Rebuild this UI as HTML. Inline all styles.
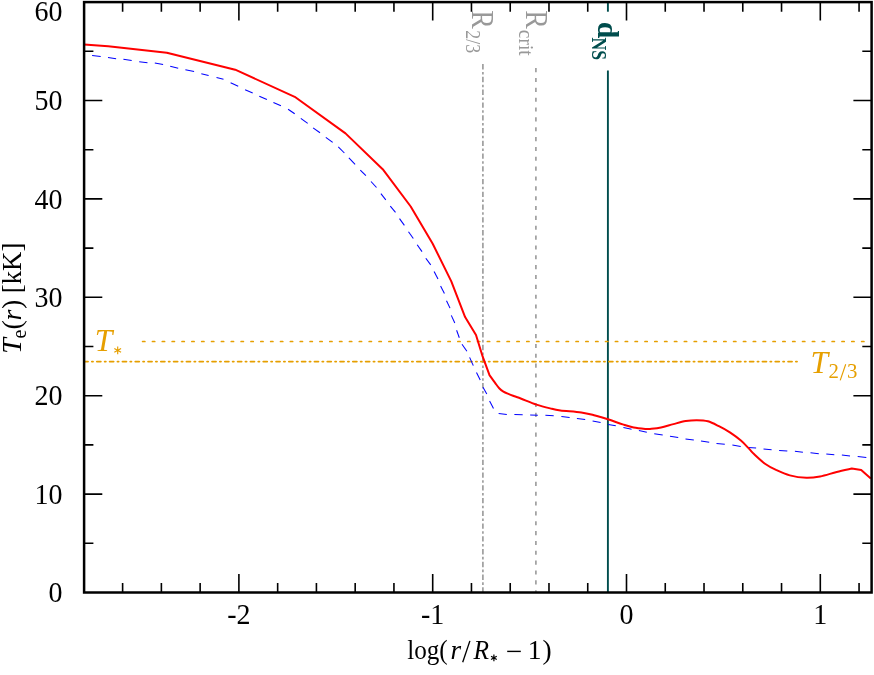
<!DOCTYPE html>
<html><head><meta charset="utf-8"><title>Te(r)</title>
<style>html,body{margin:0;padding:0;background:#fff}svg{display:block;will-change:transform}.ls,.ls text{font-family:"Liberation Serif",serif}</style>
</head><body>
<svg width="874" height="675" viewBox="0 0 874 675">
<rect width="874" height="675" fill="#fff"/>
<line x1="482.9" y1="64.1" x2="482.9" y2="592.5" stroke="#999999" stroke-width="1.6" stroke-dasharray="5.4 2.4 2.6 2.36"/>
<line x1="535.9" y1="68.1" x2="535.9" y2="592.5" stroke="#999999" stroke-width="1.6" stroke-dasharray="4.1 5.75"/>
<line x1="607.9" y1="2.1" x2="607.9" y2="11.7" stroke="#004d4d" stroke-width="1.9"/>
<line x1="607.9" y1="70.6" x2="607.9" y2="592.5" stroke="#004d4d" stroke-width="1.9"/>
<line x1="142.6" y1="341.5" x2="866" y2="341.5" stroke="#e69f00" stroke-width="1.7" stroke-linecap="round" stroke-dasharray="2.3 7.55"/>
<line x1="83.2" y1="361.6" x2="797.2" y2="361.6" stroke="#e69f00" stroke-width="1.9" stroke-linecap="round" stroke-dashoffset="-0.9" stroke-dasharray="3.9 3.9 1.1 3.9"/>
<line x1="92.1" y1="55.5" x2="100.7" y2="56.6" stroke="#0000ff" stroke-width="1.05"/>
<line x1="108" y1="57.6" x2="116.1" y2="58.7" stroke="#0000ff" stroke-width="1.05"/>
<line x1="123.4" y1="59.3" x2="131.7" y2="60.6" stroke="#0000ff" stroke-width="1.05"/>
<line x1="139.2" y1="61.7" x2="147.5" y2="62.7" stroke="#0000ff" stroke-width="1.05"/>
<line x1="154.8" y1="63.1" x2="163.1" y2="64.4" stroke="#0000ff" stroke-width="1.05"/>
<line x1="170.2" y1="66.2" x2="178.2" y2="68.3" stroke="#0000ff" stroke-width="1.05"/>
<line x1="185.4" y1="69.7" x2="194.1" y2="71.6" stroke="#0000ff" stroke-width="1.05"/>
<line x1="201.3" y1="73.7" x2="208.6" y2="75.5" stroke="#0000ff" stroke-width="1.05"/>
<line x1="216.5" y1="77.6" x2="223.5" y2="79.3" stroke="#0000ff" stroke-width="1.05"/>
<line x1="230.6" y1="82.8" x2="238.2" y2="86.2" stroke="#0000ff" stroke-width="1.05"/>
<line x1="245.1" y1="89.7" x2="252.7" y2="93.1" stroke="#0000ff" stroke-width="1.05"/>
<line x1="259.3" y1="96.2" x2="266.9" y2="99.6" stroke="#0000ff" stroke-width="1.05"/>
<line x1="273.4" y1="102.4" x2="280.9" y2="105.8" stroke="#0000ff" stroke-width="1.05"/>
<line x1="288.1" y1="109.2" x2="294.7" y2="113.8" stroke="#0000ff" stroke-width="1.05"/>
<line x1="300.8" y1="118.4" x2="307.7" y2="123.4" stroke="#0000ff" stroke-width="1.05"/>
<line x1="313.1" y1="127.9" x2="320" y2="132.7" stroke="#0000ff" stroke-width="1.05"/>
<line x1="325.8" y1="137.3" x2="332.7" y2="142.4" stroke="#0000ff" stroke-width="1.05"/>
<line x1="338.3" y1="146.9" x2="344.4" y2="153.0" stroke="#0000ff" stroke-width="1.05"/>
<line x1="348.9" y1="157.9" x2="355.1" y2="164.4" stroke="#0000ff" stroke-width="1.05"/>
<line x1="360.3" y1="170.1" x2="365.9" y2="175.7" stroke="#0000ff" stroke-width="1.05"/>
<line x1="371" y1="181.5" x2="376.5" y2="187.5" stroke="#0000ff" stroke-width="1.05"/>
<line x1="380.9" y1="193.7" x2="385.8" y2="199.9" stroke="#0000ff" stroke-width="1.05"/>
<line x1="390.3" y1="206.2" x2="395.5" y2="212.4" stroke="#0000ff" stroke-width="1.05"/>
<line x1="399.5" y1="218.6" x2="404.4" y2="225.4" stroke="#0000ff" stroke-width="1.05"/>
<line x1="408.5" y1="231.7" x2="413.3" y2="238.5" stroke="#0000ff" stroke-width="1.05"/>
<line x1="417.2" y1="244.8" x2="422" y2="251.6" stroke="#0000ff" stroke-width="1.05"/>
<line x1="425.8" y1="258.3" x2="430.7" y2="264.9" stroke="#0000ff" stroke-width="1.05"/>
<line x1="434.1" y1="271.4" x2="438" y2="278.9" stroke="#0000ff" stroke-width="1.05"/>
<line x1="440.6" y1="286.1" x2="444.4" y2="293.4" stroke="#0000ff" stroke-width="1.05"/>
<line x1="446.5" y1="300.7" x2="450" y2="308.1" stroke="#0000ff" stroke-width="1.05"/>
<line x1="451.3" y1="315.4" x2="454.8" y2="323" stroke="#0000ff" stroke-width="1.05"/>
<line x1="456.6" y1="330.2" x2="459.3" y2="337.8" stroke="#0000ff" stroke-width="1.05"/>
<line x1="462" y1="344.3" x2="466.9" y2="351.2" stroke="#0000ff" stroke-width="1.05"/>
<line x1="469.6" y1="357.4" x2="473.3" y2="365.6" stroke="#0000ff" stroke-width="1.05"/>
<line x1="476.5" y1="372.5" x2="480.2" y2="380.1" stroke="#0000ff" stroke-width="1.05"/>
<line x1="483" y1="387.3" x2="486.8" y2="393.9" stroke="#0000ff" stroke-width="1.05"/>
<line x1="489.6" y1="401.1" x2="493.5" y2="408.4" stroke="#0000ff" stroke-width="1.05"/>
<line x1="498.6" y1="413.6" x2="506.8" y2="414.6" stroke="#0000ff" stroke-width="1.05"/>
<line x1="514.4" y1="414.6" x2="522.7" y2="414.8" stroke="#0000ff" stroke-width="1.05"/>
<line x1="530.2" y1="415" x2="537.8" y2="415.2" stroke="#0000ff" stroke-width="1.05"/>
<line x1="545.4" y1="415.3" x2="553.7" y2="415.8" stroke="#0000ff" stroke-width="1.05"/>
<line x1="561.4" y1="416.6" x2="569.6" y2="417.5" stroke="#0000ff" stroke-width="1.05"/>
<line x1="576.9" y1="418.5" x2="585.2" y2="419.6" stroke="#0000ff" stroke-width="1.05"/>
<line x1="592.6" y1="421" x2="600.6" y2="422.6" stroke="#0000ff" stroke-width="1.05"/>
<line x1="608.2" y1="424.4" x2="615.8" y2="425.8" stroke="#0000ff" stroke-width="1.05"/>
<line x1="623.4" y1="427.6" x2="631.6" y2="429.2" stroke="#0000ff" stroke-width="1.05"/>
<line x1="638.9" y1="430.6" x2="646.8" y2="432.3" stroke="#0000ff" stroke-width="1.05"/>
<line x1="654.2" y1="433.7" x2="662.7" y2="435.1" stroke="#0000ff" stroke-width="1.05"/>
<line x1="670" y1="436.2" x2="678.2" y2="437.6" stroke="#0000ff" stroke-width="1.05"/>
<line x1="685.5" y1="439" x2="693.8" y2="439.9" stroke="#0000ff" stroke-width="1.05"/>
<line x1="701" y1="440.9" x2="709.2" y2="442.3" stroke="#0000ff" stroke-width="1.05"/>
<line x1="716.5" y1="443.4" x2="724.8" y2="444.3" stroke="#0000ff" stroke-width="1.05"/>
<line x1="732.4" y1="445" x2="740.7" y2="446.4" stroke="#0000ff" stroke-width="1.05"/>
<line x1="748.1" y1="447.5" x2="756.1" y2="447.9" stroke="#0000ff" stroke-width="1.05"/>
<line x1="763.5" y1="448.9" x2="771.6" y2="449.7" stroke="#0000ff" stroke-width="1.05"/>
<line x1="779.1" y1="450.4" x2="787.3" y2="451.1" stroke="#0000ff" stroke-width="1.05"/>
<line x1="794.9" y1="451.3" x2="802.9" y2="452.3" stroke="#0000ff" stroke-width="1.05"/>
<line x1="810.5" y1="452.7" x2="818.8" y2="453.7" stroke="#0000ff" stroke-width="1.05"/>
<line x1="826.3" y1="454.1" x2="834.3" y2="454.8" stroke="#0000ff" stroke-width="1.05"/>
<line x1="841.9" y1="455.1" x2="850" y2="455.9" stroke="#0000ff" stroke-width="1.05"/>
<line x1="857.7" y1="456.6" x2="866.3" y2="457.5" stroke="#0000ff" stroke-width="1.05"/>
<path fill="none" stroke="#ff0000" stroke-width="2.0" stroke-linejoin="round" d="M84.1 44.5 L108.2 46.3 L166.8 52.7 L235.2 69.7 L294.7 96.8 L345.5 133.4 L382.7 169.2 L410.7 206.5 L432.7 243.7 L451.3 281.4 L465.1 317.1 L476.0 335.0 L482.7 356.7 L489.6 375.3 C490.52 376.57 493.50 380.75 495.1 382.9 C496.70 385.05 497.82 386.75 499.2 388.2 C500.58 389.65 501.78 390.62 503.4 391.6 C505.02 392.58 507.07 393.33 508.9 394.1 C510.73 394.87 512.33 395.43 514.4 396.2 C516.47 396.97 517.63 397.30 521.3 398.7 C524.97 400.10 531.58 402.98 536.4 404.6 C541.22 406.22 546.20 407.43 550.2 408.4 C554.20 409.37 555.22 409.73 560.4 410.4 C565.58 411.07 575.52 411.55 581.3 412.4 C587.08 413.25 590.67 414.37 595.1 415.5 C599.53 416.63 603.30 417.72 607.9 419.2 C612.50 420.68 618.40 423.00 622.7 424.4 C627.00 425.80 629.80 426.83 633.7 427.6 C637.60 428.37 643.38 428.78 646.1 429.0 C648.82 429.22 647.52 429.15 650 428.9 C652.48 428.65 657.10 428.30 661 427.5 C664.90 426.70 669.27 425.17 673.4 424.1 C677.53 423.03 681.90 421.75 685.8 421.1 C689.70 420.45 693.12 420.17 696.8 420.2 C700.48 420.23 704.22 420.30 707.9 421.3 C711.58 422.30 715.23 424.35 718.9 426.2 C722.57 428.05 726.23 430.00 729.9 432.4 C733.57 434.80 737.68 437.85 740.9 440.6 C744.12 443.35 747.02 446.65 749.2 448.9 C751.38 451.15 751.37 451.63 754 454.1 C756.63 456.57 761.33 461.07 765 463.7 C768.67 466.33 771.87 467.95 776 469.9 C780.13 471.85 784.73 474.08 789.8 475.4 C794.87 476.72 801.35 477.63 806.4 477.8 C811.45 477.97 815.05 477.37 820.1 476.4 C825.15 475.43 831.42 473.30 836.7 472.0 C841.98 470.70 849.28 469.17 851.8 468.6 L861.2 469.9 L870.8 478.5"/>
<path d="M122.62 2.1v9.6M122.62 592.5v-9.6M161.38 2.1v9.6M161.38 592.5v-9.6M200.14 2.1v9.6M200.14 592.5v-9.6M238.90 2.1v18.5M238.90 592.5v-18.5M277.66 2.1v9.6M277.66 592.5v-9.6M316.42 2.1v9.6M316.42 592.5v-9.6M355.18 2.1v9.6M355.18 592.5v-9.6M393.94 2.1v9.6M393.94 592.5v-9.6M432.70 2.1v18.5M432.70 592.5v-18.5M471.46 2.1v9.6M471.46 592.5v-9.6M510.22 2.1v9.6M510.22 592.5v-9.6M548.98 2.1v9.6M548.98 592.5v-9.6M587.74 2.1v9.6M587.74 592.5v-9.6M626.50 2.1v18.5M626.50 592.5v-18.5M665.26 2.1v9.6M665.26 592.5v-9.6M704.02 2.1v9.6M704.02 592.5v-9.6M742.78 2.1v9.6M742.78 592.5v-9.6M781.54 2.1v9.6M781.54 592.5v-9.6M820.30 2.1v18.5M820.30 592.5v-18.5M859.06 2.1v9.6M859.06 592.5v-9.6M84.1 543.30h9.3M871.6 543.30h-9.3M84.1 494.10h18.2M871.6 494.10h-18.2M84.1 444.90h9.3M871.6 444.90h-9.3M84.1 395.70h18.2M871.6 395.70h-18.2M84.1 346.50h9.3M871.6 346.50h-9.3M84.1 297.30h18.2M871.6 297.30h-18.2M84.1 248.10h9.3M871.6 248.10h-9.3M84.1 198.90h18.2M871.6 198.90h-18.2M84.1 149.70h9.3M871.6 149.70h-9.3M84.1 100.50h18.2M871.6 100.50h-18.2M84.1 51.30h9.3M871.6 51.30h-9.3" stroke="#000" stroke-width="1.6" fill="none"/>
<rect x="84.1" y="2.1" width="787.50" height="590.40" fill="none" stroke="#000" stroke-width="2.5"/>
<g class="ls" font-size="29.3" fill="#000">
<text transform="translate(62.4,602.20) scale(0.955,1)" text-anchor="end">0</text>
<text transform="translate(62.4,503.80) scale(0.955,1)" text-anchor="end">10</text>
<text transform="translate(62.4,405.40) scale(0.955,1)" text-anchor="end">20</text>
<text transform="translate(62.4,307.00) scale(0.955,1)" text-anchor="end">30</text>
<text transform="translate(62.4,208.60) scale(0.955,1)" text-anchor="end">40</text>
<text transform="translate(62.4,110.20) scale(0.955,1)" text-anchor="end">50</text>
<text transform="translate(62.4,20.60) scale(0.955,1)" text-anchor="end">60</text>
<text transform="translate(238.90,623.9) scale(0.955,1)" text-anchor="middle">-2</text>
<text transform="translate(432.70,623.9) scale(0.955,1)" text-anchor="middle">-1</text>
<text transform="translate(626.50,623.9) scale(0.955,1)" text-anchor="middle">0</text>
<text transform="translate(820.30,623.9) scale(0.955,1)" text-anchor="middle">1</text>
</g>
<g class="ls" font-size="27.5" fill="#000">
<text x="407.2" y="658.9" textLength="40.5" lengthAdjust="spacingAndGlyphs">log(</text>
<text x="450.6" y="658.9" font-style="italic" textLength="10.6" lengthAdjust="spacingAndGlyphs">r</text>
<line x1="462.7" y1="662.2" x2="469.9" y2="640.9" stroke="#000" stroke-width="1.35"/>
<text x="473.6" y="658.9" font-style="italic" textLength="15.5" lengthAdjust="spacingAndGlyphs">R</text>
<line x1="507.2" y1="651.4" x2="520.8" y2="651.4" stroke="#000" stroke-width="1.4"/>
<text x="527.8" y="658.9">1</text>
<text x="542.4" y="658.9">)</text>
</g>
<path d="M493.90 654.60L493.90 661.20M496.76 656.25L491.04 659.55M496.76 659.55L491.04 656.25" stroke="#000" stroke-width="1.2" fill="none"/>
<g transform="translate(21.3,352.6) rotate(-90)" class="ls" font-size="28" fill="#000">
<text x="-1.2" y="0" font-style="italic">T</text>
<text x="14.2" y="4.3" font-size="20">e</text>
<text x="23.2" y="0">(</text>
<text x="32.0" y="0" font-style="italic">r</text>
<text x="43.6" y="0">)</text>
<text x="59.4" y="0" textLength="50.5" lengthAdjust="spacingAndGlyphs">[kK]</text>
</g>
<g transform="translate(472.3,10.3) rotate(90)" class="ls" fill="#999999">
<text x="0" y="0" font-size="31.5" textLength="18.6" lengthAdjust="spacingAndGlyphs">R</text>
<text x="20" y="6.2" font-size="20.5" textLength="22.8" lengthAdjust="spacingAndGlyphs">2/3</text>
</g>
<g transform="translate(525.7,10.3) rotate(90)" class="ls" fill="#999999">
<text x="0" y="0" font-size="31.5" textLength="18.6" lengthAdjust="spacingAndGlyphs">R</text>
<text x="19.5" y="6.2" font-size="20.5" textLength="26" lengthAdjust="spacingAndGlyphs">crit</text>
</g>
<g transform="translate(597.9,21.8) rotate(90)" class="ls" font-weight="bold" fill="#004d4d">
<text x="0" y="0" font-size="30">d</text>
<text x="15.8" y="6.1" font-size="20" textLength="22.6" lengthAdjust="spacingAndGlyphs">NS</text>
</g>
<g class="ls" fill="#e69f00">
<text x="94.8" y="350.9" font-size="31.6" font-style="italic">T</text>
<text x="810.6" y="373.0" font-size="31.6" font-style="italic">T</text>
<text x="828.4" y="377.8" font-size="20.8">2</text>
<text x="847.0" y="377.8" font-size="20.8">3</text>
</g>
<line x1="840.2" y1="380.4" x2="845.7" y2="364.3" stroke="#e69f00" stroke-width="1.15"/>
<path d="M117.70 346.50L117.70 354.30M121.08 348.45L114.32 352.35M121.08 352.35L114.32 348.45" stroke="#e69f00" stroke-width="1.15" fill="none"/>
</svg>
</body></html>
